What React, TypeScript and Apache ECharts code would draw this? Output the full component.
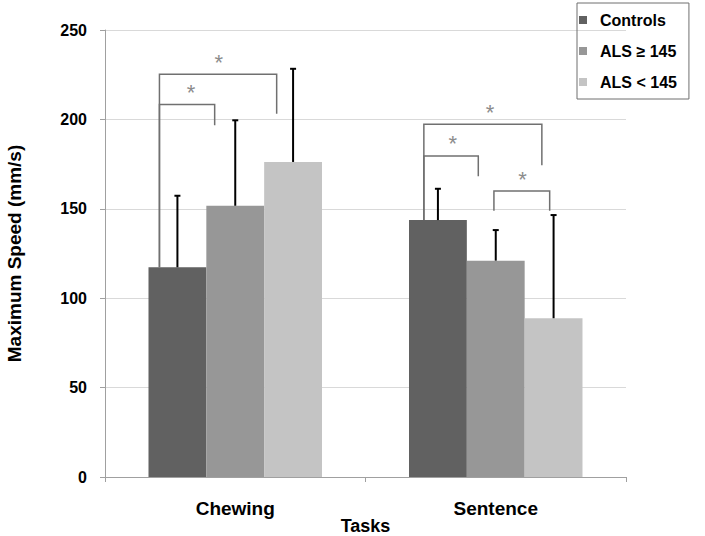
import React, { useEffect, useRef } from "react";
import * as echarts from "echarts";

const categories = ["Chewing", "Sentence"];
const seriesNames = ["Controls", "ALS ≥ 145", "ALS < 145"];
const controls = [117.3, 143.7];
const alsHigh = [151.7, 121.0];
const alsLow = [176.2, 88.8];
const controlsErr = [40.0, 17.5];
const alsHighErr = [47.8, 17.1];
const alsLowErr = [52.1, 57.7];
const yTicks = { min: 0, max: 250, interval: 50 };

// significance brackets in data units: x in category units (0 = Chewing, 1 = Sentence)
// [xLeft, xRight, yLine, yLeftEnd, yRightEnd, xStar]
const brackets = [
  [-0.291, -0.079, 208.3, 117.3, 196.7, -0.17],
  [-0.291, 0.159, 225.3, 117.3, 203.2, -0.063],
  [0.724, 0.933, 179.6, 143.7, 168.2, 0.835],
  [0.724, 1.177, 197.3, 143.7, 174.4, 0.978],
  [0.993, 1.207, 159.9, 148.9, 148.9, 1.103],
];

const colors = ["#616161", "#979797", "#c4c4c4"];
const FONT = "'Liberation Sans', Arial, sans-serif";
const GAP = 0.334;

export default function App() {
  const ref = useRef<HTMLDivElement>(null);
  useEffect(() => {
    if (!ref.current) return;
    document.body.style.margin = "0";
    const chart = echarts.init(ref.current, null, { renderer: "svg" });
    const values = [controls, alsHigh, alsLow];
    const errs = [controlsErr, alsHighErr, alsLowErr];
    const errData: number[][] = [];
    values.forEach((arr, s) =>
      arr.forEach((v, c) => errData.push([c, v, errs[s][c], s]))
    );
    const option: any = {
      animation: false,
      textStyle: { fontFamily: FONT },
      grid: { left: 105, right: 79, top: 30, bottom: 59, containLabel: false, outerBoundsMode: "none" },
      legend: {
        orient: "vertical",
        left: 577,
        top: 3,
        padding: [9, 12, 9, 2],
        itemGap: 15,
        itemWidth: 24,
        itemHeight: 8,
        icon: "path://M0,0h8v8h-8z",
        borderColor: "#6f6f6f",
        borderWidth: 1,
        textStyle: { fontFamily: FONT, fontWeight: "bold", fontSize: 16, color: "#000" },
        data: seriesNames,
      },
      xAxis: [
        {
          type: "category",
          data: categories,
          name: "Tasks",
          nameLocation: "middle",
          nameGap: 40,
          nameMoveOverlap: false,
          nameTextStyle: { fontFamily: FONT, fontWeight: "bold", fontSize: 18, color: "#000" },
          axisLine: { lineStyle: { color: "#a0a0a0", width: 1 } },
          axisTick: { show: true, length: 5, lineStyle: { color: "#a0a0a0" } },
          axisLabel: { margin: 22, fontFamily: FONT, fontWeight: "bold", fontSize: 19, color: "#000" },
        },
        { type: "value", min: -0.5, max: 1.5, show: false },
      ],
      yAxis: {
        type: "value",
        min: yTicks.min,
        max: yTicks.max,
        interval: yTicks.interval,
        name: "Maximum Speed (mm/s)",
        nameLocation: "middle",
        nameRotate: 90,
        nameGap: 81,
        nameMoveOverlap: false,
        nameTextStyle: { fontFamily: FONT, fontWeight: "bold", fontSize: 19, color: "#000" },
        axisLine: { show: true, onZero: false, lineStyle: { color: "#a0a0a0", width: 1 } },
        axisTick: { show: true, length: 5, lineStyle: { color: "#a0a0a0" } },
        splitLine: { lineStyle: { color: "#d9d9d9", width: 1 } },
        axisLabel: { margin: 18, fontFamily: FONT, fontWeight: "bold", fontSize: 16, color: "#000" },
      },
      series: [
        ...seriesNames.map((n, i) => ({
          name: n,
          type: "bar",
          data: values[i],
          barGap: "0%",
          barCategoryGap: GAP * 100 + "%",
          itemStyle: { color: colors[i] },
        })),
        {
          type: "custom",
          z: 5,
          data: errData,
          renderItem: (params: any, api: any) => {
            const c = api.value(0);
            const v = api.value(1);
            const e = api.value(2);
            const s = api.value(3);
            const band = api.size([1, 0])[0];
            const bw = (band * (1 - GAP)) / 3;
            const base = api.coord([c, v]);
            const top = api.coord([c, v + e]);
            const x = base[0] + (s - 1) * bw;
            return {
              type: "group",
              children: [
                { type: "line", shape: { x1: x, y1: base[1], x2: x, y2: top[1] }, style: { stroke: "#000", lineWidth: 2 } },
                { type: "line", shape: { x1: x - 3, y1: top[1], x2: x + 3, y2: top[1] }, style: { stroke: "#000", lineWidth: 2 } },
              ],
            };
          },
        },
        {
          type: "custom",
          xAxisIndex: 1,
          z: 6,
          data: brackets,
          renderItem: (params: any, api: any) => {
            const xl = api.value(0), xr = api.value(1), yl = api.value(2);
            const yle = api.value(3), yre = api.value(4), xs = api.value(5);
            const pL = api.coord([xl, yl]);
            const pR = api.coord([xr, yl]);
            const pLE = api.coord([xl, yle]);
            const pRE = api.coord([xr, yre]);
            const pS = api.coord([xs, yl]);
            return {
              type: "group",
              children: [
                {
                  type: "polyline",
                  shape: { points: [[pLE[0], pLE[1]], [pL[0], pL[1]], [pR[0], pR[1]], [pRE[0], pRE[1]]] },
                  style: { stroke: "#707070", lineWidth: 1.5, fill: "none" },
                },
                {
                  type: "text",
                  x: pS[0],
                  y: pS[1] - 12,
                  style: { text: "*", fontSize: 22, fontFamily: FONT, fill: "#8c8c8c", align: "center", verticalAlign: "middle" },
                },
              ],
            };
          },
        },
      ],
    };
    chart.setOption(option);
    return () => chart.dispose();
  }, []);
  return <div ref={ref} style={{ width: 705, height: 536 }} />;
}
